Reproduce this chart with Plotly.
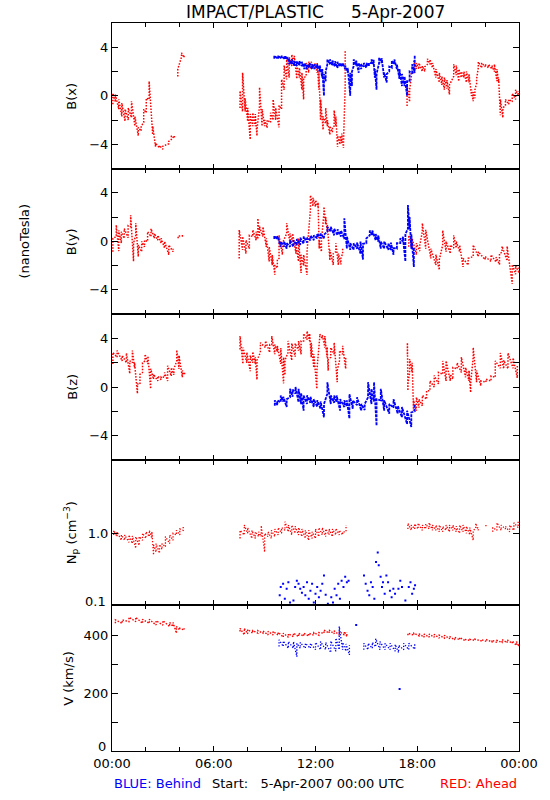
import plotly.graph_objects as go
from plotly.subplots import make_subplots

N = None
# ---------------- Bx ----------------
bx_red_t  = [0.05,0.2,0.4,0.58,0.77,0.96,1.15,1.35,1.55,1.72,1.87,2.02,2.19,2.4,2.57,2.8,3.0,3.35,3.5,3.68,N,3.88,4.1,4.25,N,
             7.55,7.7,7.85,8.0,8.15,8.3,8.45,8.55,8.7,8.85,9.0,9.15,9.35,9.5,9.65,9.85,10.0,10.15,10.3,10.45,10.6,10.75,10.9,11.05,11.2,11.3,11.45,11.6,11.75,11.95,12.1,12.2,12.3,12.45,12.6,12.7,12.85,13.0,13.1,13.2,13.3,13.45,13.55,13.65,13.75,N,
             17.4,17.55,17.65,17.8,17.95,18.1,18.3,18.45,18.6,18.75,18.9,19.1,19.3,19.45,19.6,19.75,19.9,20.15,20.3,20.45,20.6,20.75,20.9,21.05,21.2,21.3,21.4,21.5,21.6,21.8,22.0,22.2,22.4,22.55,22.7,22.8,22.9,23.05,23.2,23.4,23.6,23.8,23.95]
bx_red_lo = [-0.7,-0.5,-1.1,-1.7,-2.1,-2.0,-1.8,-2.5,-3.3,-2.9,-2.2,-1.4,-0.3,-3.2,-4.2,-4.3,-4.4,-3.95,-3.6,-3.5,N,1.6,3.2,3.15,N,
             -1.0,-1.3,-1.3,-2.1,-3.6,-2.5,-2.5,-3.3,-0.85,-2.5,-2.5,-2.65,-2.2,-2.0,-2.0,-2.6,-1.1,0.5,1.35,1.5,2.45,2.6,1.4,1.5,0.5,-0.3,1.6,1.9,2.2,2.2,1.9,0.5,-2.0,-2.8,-2.3,-2.5,-3.2,-3.0,-2.5,-2.5,-4.2,-4.0,-3.9,-4.3,0.8,N,
             -0.85,-0.5,1.5,1.9,2.2,2.2,2.0,2.0,2.6,2.6,2.3,1.5,1.1,0.9,0.5,0.6,0.1,1.6,1.7,1.2,1.5,1.5,1.1,1.1,0.0,-0.45,-0.2,1.0,2.3,2.3,2.4,2.3,2.2,2.0,1.2,1.1,-1.6,-1.8,-0.8,-0.7,-0.5,-0.3,0.0]
bx_red_hi = [0.2,0.1,-0.3,-0.6,-1.1,-1.0,-0.45,-1.7,-2.6,-2.5,-1.1,-0.2,1.2,-2.5,-3.9,-4.1,-4.15,-3.75,-3.3,-3.2,N,2.2,3.55,3.4,N,
             0.4,1.9,-0.2,-1.0,-1.5,-1.4,-1.5,-2.8,0.7,-1.1,-2.0,-2.0,-1.4,-0.3,-1.0,-0.8,1.35,2.5,3.0,3.2,3.4,3.3,2.5,2.3,1.9,1.5,2.7,2.8,2.8,2.7,2.7,2.0,-0.3,-1.7,-1.0,-2.0,-2.5,-2.6,-1.2,-1.7,-3.3,-3.3,-3.1,-3.9,3.8,N,
             0.9,0.5,1.9,2.9,2.7,2.7,2.45,2.4,3.05,3.0,2.7,2.2,1.9,1.6,1.5,1.3,0.9,2.6,2.5,2.2,2.0,2.0,2.0,1.8,0.5,0.3,0.5,1.4,2.8,2.7,2.6,2.6,2.5,2.6,2.2,1.4,-0.3,-1.0,-0.3,-0.3,0.2,0.5,0.4]
bx_blue_t  = [9.57,9.8,10.0,10.2,10.35,10.45,10.6,10.75,10.9,11.05,11.2,11.35,11.5,11.65,11.8,11.95,12.1,12.25,12.4,12.5,12.6,12.7,12.85,13.0,13.15,13.3,13.45,13.6,13.75,13.9,14.05,14.15,14.25,14.4,14.55,14.7,14.85,15.0,15.15,15.3,15.42,15.5,15.6,15.75,15.9,16.05,16.2,16.35,16.5,16.65,16.8,16.95,17.1,17.25,17.4,17.55,17.7,17.85]
bx_blue_lo = [3.05,3.05,3.05,3.0,3.0,2.6,2.6,2.45,2.45,2.5,2.45,2.2,2.2,2.3,2.2,2.2,2.3,2.0,1.5,0.0,1.2,2.6,2.6,2.5,2.4,2.3,2.4,2.4,2.2,1.9,0.0,0.8,2.45,2.5,1.9,2.2,2.4,2.3,2.45,2.7,2.6,1.5,0.5,2.7,2.7,1.5,1.1,2.0,2.3,2.6,2.2,1.4,0.8,0.8,0.0,1.2,1.9,1.9]
bx_blue_hi = [3.3,3.3,3.3,3.3,3.2,3.0,3.0,2.85,2.85,2.85,2.8,2.7,2.6,2.7,2.6,2.6,2.6,2.5,2.2,1.8,2.0,3.0,3.0,2.9,2.85,2.8,2.7,2.7,2.5,2.3,1.9,2.0,3.0,2.9,2.7,2.6,2.7,2.7,2.7,3.0,3.0,2.2,1.8,3.15,3.1,1.9,1.8,2.4,2.9,3.0,2.6,2.2,1.8,1.6,1.2,2.0,2.6,3.3]

# ---------------- By ----------------
by_red_t  = [0.05,0.25,0.4,0.55,0.72,0.95,1.1,1.27,1.4,1.55,1.75,1.92,2.1,2.3,2.5,2.7,2.9,3.1,3.35,3.6,N,3.9,4.15,N,
             7.5,7.7,7.9,8.1,8.3,8.5,8.6,8.7,8.9,9.1,9.27,9.45,9.6,9.75,9.85,10.05,10.3,10.5,10.65,10.85,11.0,11.15,11.3,11.5,11.7,11.85,12.0,12.15,12.22,12.35,12.5,12.6,12.7,12.85,13.05,13.2,13.35,13.5,13.6,N,
             17.5,17.7,17.95,18.15,18.3,18.5,18.8,19.1,19.3,19.5,19.7,19.95,20.15,20.3,20.5,20.7,21.0,21.3,21.6,22.0,22.35,22.65,22.85,23.0,23.3,23.6,23.8,24.0]
by_red_lo = [-0.85,0.4,-0.8,-0.15,0.25,0.3,1.2,-1.65,0.5,-1.25,-0.85,-0.45,0.0,0.4,0.25,0.1,-0.15,-0.55,-1.1,-0.85,N,0.25,0.45,N,
             -1.4,-0.7,-1.0,-0.6,0.4,0.1,0.2,0.4,0.4,-0.45,-1.65,-1.95,-2.75,-2.2,-1.4,-1.1,0.65,-0.15,0.0,-1.0,-1.65,-2.6,-2.0,-2.75,2.6,2.9,2.85,2.85,-0.6,-0.85,2.4,1.4,0.8,-1.55,-1.95,-0.85,-1.95,-1.9,-1.0,N,
             -0.45,-0.6,-1.1,-0.8,0.8,-0.6,-1.4,-1.95,-2.35,-0.3,-0.85,-1.0,-0.55,-0.55,-0.85,-2.1,-1.95,-1.25,-1.25,-1.5,-1.65,-1.7,-1.9,-0.9,-1.6,-3.5,-2.7,-2.6]
by_red_hi = [0.25,1.35,0.9,0.8,1.05,1.3,2.15,-0.15,1.5,-0.3,0.0,0.1,0.8,1.05,0.65,0.5,0.25,0.0,-0.3,-0.6,N,0.45,0.65,N,
             0.95,0.4,0.1,0.5,0.95,0.8,1.9,1.2,1.2,0.25,-0.45,-1.1,-1.95,-1.5,0.5,-0.15,1.5,0.65,0.65,-0.3,0.25,-1.1,-1.1,-0.85,3.8,3.6,3.4,3.2,0.1,0.0,2.85,2.0,1.35,-0.7,-1.0,-0.15,-1.0,-1.4,-0.6,N,
             0.5,0.25,-0.15,-0.3,1.5,0.95,-0.6,-1.1,-1.5,0.9,0.0,-0.3,0.5,0.0,-0.3,-1.4,-1.4,-0.3,-0.85,-1.25,-1.1,-1.3,-1.0,-0.4,-0.4,-1.9,-2.0,-2.0]
by_blue_t  = [9.57,9.75,9.95,10.15,10.3,10.5,10.7,10.9,11.1,11.3,11.5,11.7,11.9,12.1,12.3,12.5,12.7,12.9,13.1,13.3,13.5,13.7,13.85,14.05,14.25,14.45,14.65,14.8,15.0,15.2,15.35,15.55,15.7,15.85,16.05,16.3,16.45,16.6,16.8,17.0,17.15,17.3,17.45,17.55,17.65,17.8]
by_blue_lo = [0.2,0.2,-0.45,-0.45,-0.6,-0.45,-0.45,-0.3,-0.3,-0.2,-0.1,0.1,0.1,0.25,0.25,0.25,0.8,0.8,0.5,0.5,0.4,0.2,-0.6,-0.7,-0.7,-0.6,-1.0,-1.5,-0.15,0.5,0.5,0.1,0.0,-0.6,-0.6,-0.7,-0.7,-1.1,-0.6,-0.15,0.0,-1.65,1.05,1.0,-0.6,-2.1]
by_blue_hi = [0.45,0.45,0.0,0.0,-0.15,0.1,0.1,0.2,0.3,0.4,0.3,0.5,0.5,0.65,0.65,0.55,1.2,1.2,1.05,1.0,0.9,1.9,0.4,-0.15,-0.15,-0.1,0.0,-0.2,0.25,0.9,0.9,0.6,0.5,0.0,0.0,-0.15,-0.1,-0.55,-0.15,0.25,0.4,0.6,3.0,2.0,0.6,-0.5]

# ---------------- Bz ----------------
bz_red_t  = [0.05,0.3,0.6,0.85,1.05,1.2,1.33,1.5,1.65,1.8,1.95,2.12,2.28,2.45,2.7,2.9,3.1,3.28,3.5,3.65,3.82,3.95,4.15,4.28,N,
             7.55,7.72,7.95,8.15,8.3,8.45,8.55,8.75,9.05,9.3,9.42,9.6,9.75,9.95,10.12,10.2,10.38,10.6,10.8,11.0,11.15,11.3,11.5,11.65,11.75,11.9,12.08,12.25,12.4,12.55,12.68,12.75,12.9,13.1,13.28,13.42,13.6,13.78,N,
             17.42,17.45,17.55,17.7,17.78,17.95,18.1,18.3,18.55,18.75,19.0,19.25,19.5,19.7,19.95,20.1,20.35,20.6,20.85,21.05,21.15,21.3,21.5,21.75,22.05,22.35,22.6,22.9,23.1,23.35,23.65,23.9]
bz_red_lo = [1.9,2.45,2.15,2.0,1.1,2.0,1.6,-0.55,0.25,1.2,2.15,1.9,-0.15,0.65,0.5,0.6,0.8,0.5,0.9,1.0,2.15,1.5,0.8,1.0,N,
             3.1,1.9,2.0,1.3,2.0,1.9,0.6,2.85,3.25,2.85,3.5,2.7,2.9,1.9,0.3,1.0,2.85,2.2,2.5,3.0,2.7,3.8,3.9,3.8,2.45,1.6,-0.15,4.1,4.0,3.25,2.45,1.35,2.45,2.7,0.4,2.2,2.7,1.5,N,
             2.7,-0.3,1.2,1.2,-1.95,-1.95,-1.7,-1.55,-1.0,-0.3,0.0,0.25,1.05,0.5,0.5,0.65,1.5,1.2,0.8,0.5,-0.45,2.45,0.4,0.1,0.4,0.5,0.8,1.55,1.5,1.5,1.55,0.75]
bz_red_hi = [2.85,3.0,2.6,2.8,2.15,3.0,2.0,0.25,1.05,2.0,2.7,2.55,1.5,1.05,0.9,0.85,1.2,1.75,1.6,1.5,3.05,2.6,1.35,1.3,N,
             4.2,3.25,2.85,2.6,2.9,2.45,2.2,3.65,3.8,3.5,4.2,3.5,3.4,3.2,2.45,2.2,3.8,3.6,3.6,3.8,3.8,4.4,4.6,4.4,3.65,2.7,1.35,4.35,4.3,4.2,3.3,2.3,3.25,3.65,1.35,3.0,3.4,2.45,N,
             3.65,0.25,2.3,2.0,-1.1,-0.85,-1.0,-0.7,-0.3,0.5,0.95,1.2,2.15,2.15,1.05,1.6,2.0,2.45,1.6,1.35,0.3,3.25,1.35,0.5,0.65,0.9,2.15,2.8,2.2,2.8,2.4,1.85]
bz_blue_t  = [9.6,9.75,9.95,10.1,10.3,10.5,10.65,10.82,11.0,11.15,11.3,11.5,11.7,11.9,12.1,12.3,12.5,12.7,12.9,13.1,13.25,13.45,13.7,13.85,14.0,14.2,14.45,14.7,14.9,15.1,15.3,15.45,15.6,15.85,16.05,16.35,16.6,16.85,17.1,17.4,17.65,17.85]
bz_blue_lo = [-1.55,-1.5,-1.25,-1.2,-1.65,-0.85,-0.8,-0.55,-1.25,-1.4,-1.95,-1.4,-1.3,-1.65,-1.65,-1.8,-2.5,-0.55,-1.4,-1.3,-1.25,-1.95,-1.65,-1.6,-2.6,-1.8,-1.5,-1.95,-1.9,-0.85,-1.4,-1.2,-3.2,-1.1,-1.95,-2.2,-1.7,-2.2,-2.5,-3.05,-3.3,-2.0]
bz_blue_hi = [-1.1,-1.1,-0.7,-0.8,-1.0,-0.15,-0.2,0.0,-0.15,-0.5,-0.7,-0.7,-0.8,-1.0,-1.1,-1.2,-1.4,0.4,-0.7,-0.7,-0.7,-1.0,-1.1,-1.1,-0.6,-1.1,-0.85,-1.4,-1.4,0.4,-0.15,0.4,-1.0,-0.15,-1.1,-1.4,-1.0,-1.55,-1.65,-1.95,-2.1,-1.4]

# ---------------- Np ----------------
np_red_t  = [0.1,0.3,0.55,0.75,1.0,1.2,1.4,1.6,1.8,2.0,2.2,2.35,2.45,2.6,2.8,2.95,3.15,3.4,3.6,3.8,4.0,4.2,N,
             7.55,7.8,8.0,8.25,8.45,8.65,8.8,9.0,9.2,9.4,9.6,9.8,10.0,10.2,10.4,10.6,10.8,11.0,11.2,11.4,11.6,11.8,12.0,12.2,12.4,12.6,12.8,13.0,13.2,13.4,13.6,13.8,N,
             17.45,17.65,17.85,18.05,18.3,18.5,18.7,18.9,19.1,19.3,19.5,19.7,19.9,20.1,20.3,20.5,20.7,20.9,21.1,21.3,21.45,21.6,N,22.05,N,22.45,22.7,22.95,23.2,23.45,23.7,23.95]
np_red_lo = [0.95,0.9,0.8,0.8,0.75,0.72,0.62,0.68,0.8,0.85,0.9,0.85,0.5,0.55,0.53,0.6,0.65,0.72,0.8,0.95,0.95,1.1,N,
             0.85,0.95,1.0,0.85,0.85,0.9,0.9,0.55,0.9,0.85,0.9,0.95,1.0,1.1,1.05,0.95,1.0,0.95,0.9,0.85,0.8,0.85,0.85,0.9,0.95,0.9,0.95,0.9,0.95,0.95,0.95,1.05,N,
             1.15,1.1,1.15,1.15,1.1,1.15,1.15,1.1,1.1,1.05,1.05,1.1,1.05,1.1,1.05,1.0,1.05,1.0,0.95,0.8,1.17,1.1,N,1.25,N,1.05,1.1,1.1,1.15,1.05,1.1,1.2]
np_red_hi = [1.1,1.05,0.95,0.95,0.95,0.92,0.9,0.9,1.0,1.05,1.1,1.05,0.69,0.72,0.7,0.72,0.9,0.95,1.0,1.1,1.15,1.28,N,
             1.1,1.3,1.2,1.1,1.05,1.05,1.28,1.0,1.05,1.1,1.15,1.2,1.2,1.45,1.3,1.3,1.25,1.2,1.15,1.1,1.1,1.05,1.15,1.2,1.2,1.15,1.15,1.15,1.17,1.1,1.05,1.3,N,
             1.38,1.3,1.35,1.38,1.3,1.35,1.4,1.3,1.3,1.3,1.25,1.3,1.3,1.3,1.25,1.3,1.3,1.25,1.2,1.1,1.38,1.2,N,1.3,N,1.2,1.4,1.3,1.25,1.3,1.4,1.45]
np_blue_t = [9.89,9.95,10.09,10.19,10.3,10.4,10.5,10.7,10.8,10.9,11.0,11.1,11.2,11.3,11.4,11.5,11.6,11.7,11.8,11.9,12.0,12.1,12.2,12.3,12.4,12.5,12.6,12.73,12.93,13.03,13.13,13.24,13.34,13.44,13.54,13.65,13.75,13.85,13.95,
             14.86,14.96,15.07,15.17,15.27,15.37,15.47,15.57,15.67,15.73,15.84,15.92,15.98,16.08,16.18,16.28,16.39,16.49,16.59,16.69,16.89,17.0,17.1,17.3,17.5,17.6,17.7,17.8,17.87]
np_blue_v = [0.138,0.18,0.2,0.124,0.17,0.21,0.11,0.117,0.18,0.22,0.2,0.17,0.15,0.18,0.138,0.21,0.124,0.16,0.2,0.11,0.145,0.18,0.13,0.16,0.2,0.26,0.14,0.105,0.13,0.11,0.17,0.138,0.2,0.124,0.22,0.18,0.25,0.21,0.22,
             0.26,0.2,0.16,0.138,0.21,0.18,0.124,0.4,0.54,0.36,0.25,0.18,0.21,0.145,0.26,0.21,0.16,0.13,0.17,0.145,0.17,0.22,0.18,0.117,0.18,0.21,0.145,0.17,0.19]

# ---------------- V ----------------
v_red_t  = [0.2,0.6,1.0,1.4,1.8,2.2,2.6,3.0,3.4,3.6,3.8,4.0,4.25,N,
            7.55,7.8,8.0,8.3,8.6,8.9,9.2,9.5,9.8,10.1,10.4,10.7,11.0,11.3,11.6,11.9,12.2,12.5,12.8,13.1,13.4,13.7,13.85,N,
            17.45,17.8,18.1,18.4,18.7,19.0,19.3,19.6,19.9,20.2,20.5,20.8,21.1,21.4,21.8,22.1,22.4,22.7,23.0,23.3,23.6,23.85,24.0]
v_red_lo = [441,441,447,447,441,441,435,435,430,430,407,418,418,N,
            413,401,405,407,407,407,401,401,400,393,393,395,395,397,397,400,400,407,407,405,401,401,395,N,
            400,400,398,393,393,393,390,390,388,384,384,382,382,382,380,378,377,375,375,374,372,365,361]
v_red_hi = [453,453,462,462,455,455,450,450,444,444,430,424,424,N,
            424,424,420,416,416,415,413,413,410,407,405,407,407,407,407,409,409,418,418,415,413,413,410,N,
            407,407,405,404,404,403,400,400,396,393,392,386,386,386,384,384,383,382,385,384,380,378,370]
v_blue_t  = [9.85,10.1,10.4,10.7,10.9,11.1,11.4,11.7,12.0,12.3,12.6,12.9,13.2,13.4,13.6,13.8,14.0,N,
             14.85,15.1,15.35,15.55,15.8,16.1,16.4,16.7,16.9,17.2,17.5,17.85]
v_blue_lo = [361,361,355,355,326,355,355,355,350,350,350,340,345,350,350,345,332,N,
             350,350,355,360,350,350,350,345,340,350,350,352]
v_blue_hi = [384,380,378,378,372,375,372,372,375,378,375,380,390,430,375,370,365,N,
             372,372,375,388,378,372,372,368,365,372,372,370]
v_blue_out_t = [14.4, 16.96]
v_blue_out_v = [435, 214]

x_major = [0, 6, 12, 18, 24]
x_major_text = ["00:00", "06:00", "12:00", "18:00", "00:00"]
x_minor = [2, 4, 8, 10, 14, 16, 20, 22]

RED = "#ff0000"
BLUE = "#0000ff"
FONT = "DejaVu Sans"


def sawtooth(t, lo, hi):
    xs, ys = [], []
    for ti, a, b in zip(t, lo, hi):
        if ti is None:
            xs.append(None); ys.append(None)
            continue
        xs += [ti, ti]
        ys += [a, b]
    return xs, ys


fig = make_subplots(rows=5, cols=1, shared_xaxes=True, vertical_spacing=0)


def add_band(t, lo, hi, color, row, width=1.0, dash="1.5px,1.5px"):
    xs, ys = sawtooth(t, lo, hi)
    fig.add_trace(go.Scatter(x=xs, y=ys, mode="lines", line=dict(color=color, width=width, dash=dash),
                             connectgaps=False, showlegend=False, hoverinfo="skip"), row=row, col=1)


add_band(bx_red_t, bx_red_lo, bx_red_hi, RED, 1, 1.5)
add_band(bx_blue_t, bx_blue_lo, bx_blue_hi, BLUE, 1, 1.8, "3px,1px")
add_band(by_red_t, by_red_lo, by_red_hi, RED, 2, 1.5)
add_band(by_blue_t, by_blue_lo, by_blue_hi, BLUE, 2, 1.8, "3px,1px")
add_band(bz_red_t, bz_red_lo, bz_red_hi, RED, 3, 1.5)
add_band(bz_blue_t, bz_blue_lo, bz_blue_hi, BLUE, 3, 1.8, "3px,1px")
add_band(np_red_t, np_red_lo, np_red_hi, RED, 4, 1.3, "1.3px,1.7px")
fig.add_trace(go.Scatter(x=np_blue_t, y=np_blue_v, mode="markers",
                         marker=dict(color=BLUE, size=2, symbol="square", line=dict(width=0)),
                         showlegend=False, hoverinfo="skip"), row=4, col=1)
add_band(v_red_t, v_red_lo, v_red_hi, RED, 5, 1.4)
add_band(v_blue_t, v_blue_lo, v_blue_hi, BLUE, 5, 1.3, "1.3px,1.7px")
fig.add_trace(go.Scatter(x=v_blue_out_t, y=v_blue_out_v, mode="markers",
                         marker=dict(color=BLUE, size=2, symbol="square", line=dict(width=0)),
                         showlegend=False, hoverinfo="skip"), row=5, col=1)

axis_common = dict(showline=True, linecolor="black", linewidth=1, mirror="ticks",
                   ticks="inside", tickcolor="black", showgrid=False, zeroline=False)
tickfont = dict(family=FONT, size=13, color="black")

for r in range(1, 6):
    fig.update_xaxes(range=[0, 24], tickvals=x_major, ticktext=x_major_text, ticklen=5,
                     minor=dict(tickvals=x_minor, ticks="inside", ticklen=4, tickcolor="black", showgrid=False),
                     showticklabels=(r == 5), tickfont=tickfont, row=r, col=1, **axis_common)

for r in (1, 2, 3):
    fig.update_yaxes(range=[-6, 6], tickvals=[-4, 0, 4], ticktext=["\u22124", "0", "4"], ticklen=6,
                     minor=dict(tickvals=[-2, 2], ticks="inside", ticklen=6, tickcolor="black", showgrid=False),
                     tickfont=tickfont, row=r, col=1, **axis_common)
fig.update_yaxes(type="log", range=[-1, 1.02], tickvals=[1], ticktext=["1.0"], ticklen=6,
                 tickfont=tickfont, row=4, col=1, **axis_common)
fig.update_yaxes(range=[0, 503], tickvals=[200, 400], ticktext=["200", "400"], ticklen=6,
                 minor=dict(tickvals=[100, 300, 500], ticks="inside", ticklen=6, tickcolor="black", showgrid=False),
                 tickfont=tickfont, row=5, col=1, **axis_common)

L, R, T, B = 112, 24, 23, 49
H = 800 - T - B


def py(p):
    return (800 - B - p) / H


def px(p):
    return (p - L) / (550 - L - R)


ann = []
ann.append(dict(text="IMPACT/PLASTIC     5-Apr-2007", x=0.5, y=py(12), xref="paper", yref="paper",
                showarrow=False, font=dict(family=FONT, size=17, color="black"), xanchor="center", yanchor="middle"))
panel_centers = [96, 241.5, 387, 532.5, 678]
for lbl, yc, xc in [("B(x)", panel_centers[0], 71), ("B(y)", panel_centers[1], 71), ("B(z)", panel_centers[2], 71),
                    ("N<sub>p</sub> (cm<sup>\u22123</sup>)", panel_centers[3], 70), ("V (km/s)", panel_centers[4], 67)]:
    ann.append(dict(text=lbl, x=px(xc), y=py(yc), xref="paper", yref="paper", showarrow=False, textangle=-90,
                    font=dict(family=FONT, size=13, color="black"), xanchor="center", yanchor="middle"))
ann.append(dict(text="(nanoTesla)", x=px(22), y=py(241), xref="paper", yref="paper", showarrow=False, textangle=-90,
                font=dict(family=FONT, size=13, color="black"), xanchor="center", yanchor="middle"))
# edge tick labels drawn slightly inside the panel as in the reference
ann.append(dict(text="0.1", x=px(108), y=py(601), xref="paper", yref="paper", showarrow=False,
                font=tickfont, xanchor="right", yanchor="middle"))
ann.append(dict(text="0", x=px(108), y=py(746), xref="paper", yref="paper", showarrow=False,
                font=tickfont, xanchor="right", yanchor="middle"))
ann.append(dict(text="BLUE: Behind", x=0, y=py(783), xref="paper", yref="paper", showarrow=False,
                font=dict(family=FONT, size=13, color=BLUE), xanchor="left", yanchor="middle"))
ann.append(dict(text="Start:   5-Apr-2007 00:00 UTC", x=px(212), y=py(783), xref="paper", yref="paper", showarrow=False,
                font=dict(family=FONT, size=13, color="black"), xanchor="left", yanchor="middle"))
ann.append(dict(text="RED: Ahead", x=1, y=py(783), xref="paper", yref="paper", showarrow=False,
                font=dict(family=FONT, size=13, color=RED), xanchor="right", yanchor="middle"))

fig.update_layout(width=550, height=800, margin=dict(l=L, r=R, t=T, b=B), plot_bgcolor="white",
                  paper_bgcolor="white", showlegend=False, annotations=ann)

fig.write_html("out.html", config={"displayModeBar": False},
               post_script="document.body.style.margin='0px';")
